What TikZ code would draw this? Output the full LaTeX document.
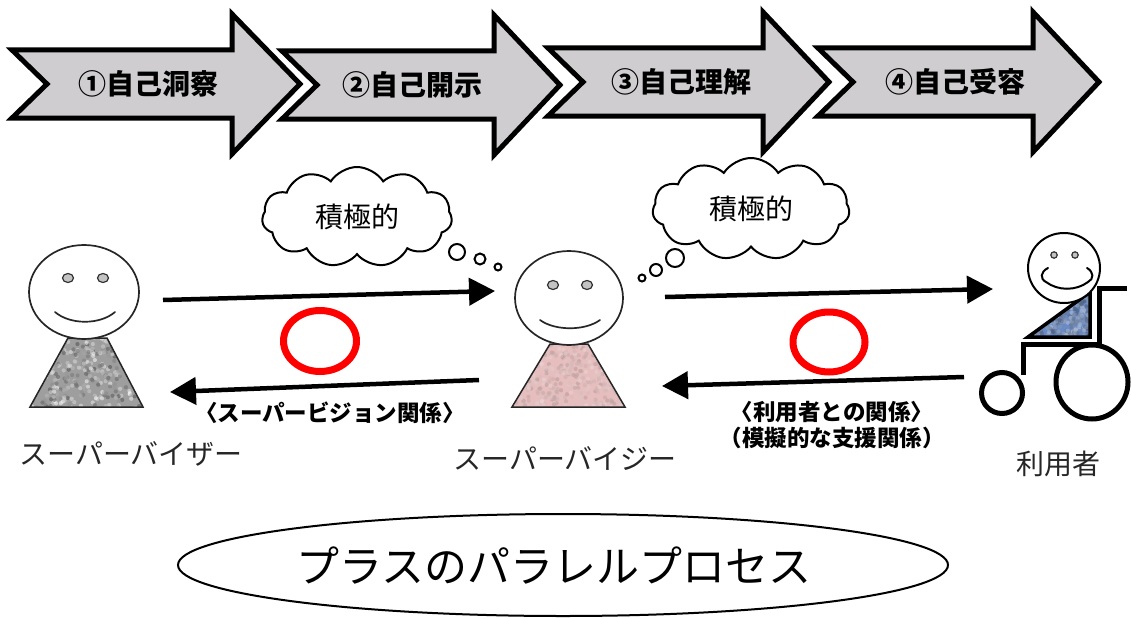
\documentclass[tikz,border=0pt]{standalone}
\usepackage{fontspec}
\usetikzlibrary{arrows.meta,shapes.symbols,shapes.geometric}
\newfontfamily\jp{Noto Sans CJK JP}

\definecolor{stagegray}{RGB}{207,205,208}
\definecolor{ringred}{RGB}{255,0,0}
\definecolor{shirtpink}{RGB}{230,190,190}
\definecolor{shirtblue}{RGB}{105,138,196}
\definecolor{eyegray}{RGB}{195,195,195}

\tikzset{
  stage/.style={fill=stagegray, draw=black, line width=5pt, line join=miter},
  stagetext/.style={font=\jp\bfseries\fontsize{28}{32}\selectfont, inner sep=0pt},
  head/.style={draw=black!85, line width=1.7pt, fill=white},
  eye/.style={draw=black!80, line width=1.2pt, fill=eyegray},
  mouth/.style={draw=black!85, line width=1.7pt, line cap=round},
  torso/.style={draw=black!85, line width=1.5pt},
  flow/.style={line width=4.5pt, -{Triangle[length=26pt,width=27pt]}},
  ring/.style={draw=ringred, line width=7pt},
  thought/.style={cloud, cloud puffs=11, cloud puff arc=115, cloud ignores aspect,
    draw, line width=2pt, fill=white, minimum width=190pt, minimum height=100pt,
    font=\jp\fontsize{28}{30}\selectfont},
  bubble/.style={draw, line width=2pt, fill=white},
  rolename/.style={font=\jp\fontsize{28}{32}\selectfont, text=black!85, inner sep=0pt},
  relation/.style={font=\jp\bfseries\fontsize{22.5}{26}\selectfont, align=center, inner sep=0pt},
  chair/.style={line width=5pt, line join=miter},
  process/.style={ellipse, draw, line width=2pt, minimum width=770pt, minimum height=102pt,
    inner sep=0pt},
}

% one stage of the four-step process: name, tail x, head base x, tip x, centre y, text x, text
\newcommand\stagearrow[7]{%
  \draw[stage] (#2,#5-34) -- (#3,#5-34) -- (#3,#5-70) -- (#4,#5) -- (#3,#5+70)
    -- (#3,#5+34) -- (#2,#5+34) -- (#2+35,#5) -- cycle;
  \node[stagetext] (#1) at (#6,#5) {#7};
}

% speckled fill inside a clipped region: x0, y0, width, height, base colour, speck colour, speck colour
\newcommand\speckle[7]{%
  \colorlet{speckbase}{#5}\colorlet{specka}{#6}\colorlet{speckb}{#7}%
  \fill[speckbase] (#1,#2) rectangle (#1+#3,#2+#4);
  \foreach \k in {1,...,420}{%
    \pgfmathsetmacro\px{#1+#3*rnd}%
    \pgfmathsetmacro\py{#2+#4*rnd}%
    \pgfmathtruncatemacro\mix{100*rnd}%
    \fill[specka!\mix!speckb, opacity=0.55] (\px,\py) circle[radius=2.1];
  }%
}

\begin{document}
\begin{tikzpicture}[x=1pt,y=-1pt]
\useasboundingbox (0,0) rectangle (1131,618);
\pgfmathsetseed{11}

% ---- four stages ----
\stagearrow{s1}{12}{232}{300}{84}{148}{①自己洞察}
\stagearrow{s2}{282}{494}{560}{85}{412}{②自己開示}
\stagearrow{s3}{548}{763}{829}{82}{681}{③自己理解}
\stagearrow{s4}{818}{1033}{1099}{82}{955}{④自己受容}

% ---- supervisor ----
\begin{scope}
  \clip (68,338) -- (107,338) -- (143,407) -- (30,407) -- cycle;
  \speckle{28}{336}{118}{74}{black!38}{black!70}{white}
\end{scope}
\draw[torso] (68,338) -- (107,338) -- (143,407) -- (30,407) -- cycle;
\draw[head] (84,292) ellipse [x radius=55, y radius=47];
\draw[eye] (68,278) ellipse [x radius=5.5, y radius=4.5];
\draw[eye] (103,278) ellipse [x radius=5.5, y radius=4.5];
\draw[mouth] (55,312) .. controls (70,325) and (100,325) .. (115,312);
\node[rolename] (svname) at (131,454) {スーパーバイザー};

% ---- supervisee ----
\begin{scope}
  \clip (550,344) -- (588,344) -- (625,407) -- (512,407) -- cycle;
  \speckle{510}{342}{118}{68}{shirtpink}{shirtpink!80!black}{shirtpink!60!white}
\end{scope}
\draw[torso] (550,344) -- (588,344) -- (625,407) -- (512,407) -- cycle;
\draw[head] (569,298) ellipse [x radius=54, y radius=47];
\draw[eye] (553,285) ellipse [x radius=5.5, y radius=4.5];
\draw[eye] (587,285) ellipse [x radius=5.5, y radius=4.5];
\draw[mouth] (540,320) .. controls (555,331) and (585,331) .. (600,320);
\node[rolename] (seename) at (565,459) {スーパーバイジー};

% ---- client in a wheelchair ----
\begin{scope}
  \clip (1028,337) -- (1090,292) -- (1090,337) -- cycle;
  \speckle{1026}{290}{66}{50}{shirtblue}{shirtblue!55!black}{shirtblue!45!white}
\end{scope}
\draw[line width=3.5pt, line join=miter] (1028,337) -- (1090,292) -- (1090,337) -- cycle;
\draw[head, draw=black, line width=2pt] (1064,268) ellipse [x radius=36, y radius=35];
\draw[eye] (1054,255) circle [radius=3.2];
\draw[eye] (1075,255) circle [radius=3.2];
\draw[mouth, draw=black, line width=2pt] (1048,268) .. controls (1040,272) and (1040,279) .. (1046,282)
  .. controls (1058,291) and (1076,291) .. (1088,282)
  .. controls (1094,279) and (1094,272) .. (1087,268);
\draw[chair] (1127,288) -- (1099,288) -- (1099,346);
\draw[chair] (1023,375) -- (1023,344) -- (1101,344);
\draw[chair] (1002,393) circle [radius=20.5];
\draw[chair] (1092,382) ellipse [x radius=36, y radius=37];
\node[rolename] (clname) at (1058,464) {利用者};

% ---- thoughts ----
\node[thought] (think1) at (357,217) {積極的};
\draw[bubble] (457,252) circle [radius=8];
\draw[bubble] (480,259) circle [radius=5.5];
\draw[bubble] (498,267) circle [radius=3.5];
\node[thought, minimum width=197pt, minimum height=102pt] (think2) at (751,209) {積極的};
\draw[bubble] (675,258) circle [radius=9];
\draw[bubble] (656,270) circle [radius=6];
\draw[bubble] (642,278) circle [radius=3.5];

% ---- relations ----
\coordinate (a1s) at (163,300);
\coordinate (a1e) at (495,291);
\coordinate (b1s) at (479,380);
\coordinate (b1e) at (170,392);
\coordinate (a2s) at (665,297);
\coordinate (a2e) at (993,289);
\coordinate (b2s) at (964,377);
\coordinate (b2e) at (662,386);
\draw[flow] (a1s) -- (a1e);
\draw[flow] (b1s) -- (b1e);
\draw[flow] (a2s) -- (a2e);
\draw[flow] (b2s) -- (b2e);

\draw[ring] (320,341) ellipse [x radius=36.5, y radius=30.5];
\draw[ring] (829,342) ellipse [x radius=36, y radius=30];

\node[relation] (rel1) at (330,413) {〈スーパービジョン関係〉};
\node[relation] (rel2) at (832,425) {〈利用者との関係〉\\（模擬的な支援関係）};

% ---- summary ----
\node[process] (parallel) at (563,565) {};
\node[font=\jp\fontsize{43}{46}\selectfont, inner sep=0pt] (paralleltext) at (554,566) {プラスのパラレルプロセス};
\end{tikzpicture}
\end{document}
